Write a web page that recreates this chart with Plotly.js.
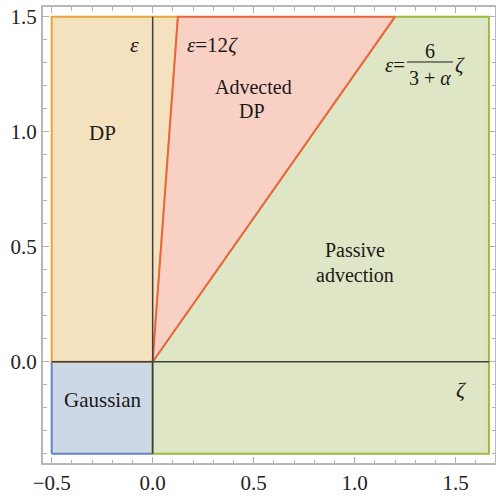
<!DOCTYPE html>
<html>
<head>
<meta charset="utf-8">
<script src="https://cdn.plot.ly/plotly-3.0.1.min.js"></script>
<style>html,body{margin:0;padding:0;background:#fff;}#chart{width:496px;height:496px;}</style>
</head>
<body>
<div id="chart"></div>
<script>
// Region boundaries
const zetaMin = -0.5, zetaMax = 1.665;
const epsMin = -0.4, epsMax = 1.5;
const slopeDP = 12;             // eps = 12 zeta
const alpha = 1.8;              // eps = 6/(3+alpha) zeta
const slopeAdv = 6 / (3 + alpha);

const xDP12 = epsMax / slopeDP;   // where eps=12 zeta meets top
const xAdv = epsMax / slopeAdv;   // where eps=6/(3+a) zeta meets top

const dpX = [zetaMin, zetaMin, xDP12, 0, zetaMin];
const dpY = [0, epsMax, epsMax, 0, 0];
const advX = [0, xDP12, xAdv, 0];
const advY = [0, epsMax, epsMax, 0];
const pasX = [0, xAdv, zetaMax, zetaMax, 0, 0];
const pasY = [0, epsMax, epsMax, epsMin, epsMin, 0];
const gauX = [zetaMin, 0, 0, zetaMin, zetaMin];
const gauY = [epsMin, epsMin, 0, 0, epsMin];

const xTicks = [-0.5, 0.0, 0.5, 1.0, 1.5];
const yTicks = [0.0, 0.5, 1.0, 1.5];

function region(x, y, fill, line) {
  return {x, y, type: 'scatter', mode: 'lines', fill: 'toself', fillcolor: fill,
          line: {color: line, width: 2}, hoverinfo: 'skip', showlegend: false};
}

const traces = [
  region(gauX, gauY, 'rgba(205,216,231,1)', '#5f86c4'),
  region(pasX, pasY, 'rgba(222,230,197,1)', '#9bbb3c'),
  region(dpX, dpY, 'rgba(244,225,190,1)', '#e8a53a'),
  region(advX, advY, 'rgba(249,208,196,1)', '#e8663a'),
  {x: [0, 0], y: [epsMin, epsMax], type: 'scatter', mode: 'lines', line: {color: '#3f3f3f', width: 1.5}, showlegend: false, hoverinfo: 'skip'},
  {x: [zetaMin, zetaMax], y: [0, 0], type: 'scatter', mode: 'lines', line: {color: '#3f3f3f', width: 1.5}, showlegend: false, hoverinfo: 'skip'}
];

const F = "'Liberation Serif', 'DejaVu Serif', serif";
function ann(x, y, text, size, xanchor) {
  return {x, y, text, showarrow: false, font: {family: F, size: size || 21, color: '#1a1a1a'}, xanchor: xanchor || 'center', yanchor: 'middle'};
}

const annotations = [
  ann(-0.25, 0.993, 'DP', 21),
  ann(-0.088, 1.377, '<i>ε</i>', 22),
  ann(0.296, 1.377, '<i>ε</i>=12<i>ζ</i>', 21),
  ann(0.50, 1.193, 'Advected', 20),
  ann(0.49, 1.088, 'DP', 20),
  ann(1.0, 0.484, 'Passive', 20),
  ann(1.0, 0.378, 'advection', 20),
  ann(-0.25, -0.167, 'Gaussian', 21),
  ann(1.53, -0.119, '<i>ζ</i>', 22),
  ann(1.257, 1.29, '<i>ε</i>=', 21, 'right'),
  ann(1.373, 1.352, '6', 20),
  ann(1.373, 1.235, '3 + <i>α</i>', 20),
  ann(1.488, 1.29, '<i>ζ</i>', 21, 'left')
];

const axisCommon = {
  showgrid: false, zeroline: false, showline: true, mirror: 'ticks', linecolor: '#b8b8b8', linewidth: 2,
  ticks: 'inside', ticklen: 6, tickcolor: '#b0b0b0', tickwidth: 1,
  minor: {dtick: 0.1, ticks: 'inside', ticklen: 3.5, tickcolor: '#b0b0b0', showgrid: false},
  tickfont: {family: F, size: 21, color: '#222'}
};

const layout = {
  width: 496, height: 496,
  margin: {l: 43, r: 1, t: 7, b: 33},
  paper_bgcolor: '#fff', plot_bgcolor: '#fff',
  showlegend: false,
  font: {family: F},
  xaxis: Object.assign({range: [-0.543, 1.695], tickvals: xTicks,
          ticktext: xTicks.map(v => v.toFixed(1).replace('-', '\u2212'))}, axisCommon),
  yaxis: Object.assign({range: [-0.44, 1.542], tickvals: yTicks,
          ticktext: yTicks.map(v => v.toFixed(1))}, axisCommon),
  shapes: [
    {type: 'line', xref: 'x', yref: 'y', x0: 1.259, x1: 1.487, y0: 1.303, y1: 1.303, line: {color: '#1a1a1a', width: 1}}
  ],
  annotations
};

Plotly.newPlot('chart', traces, layout, {staticPlot: true, displayModeBar: false});
</script>
</body>
</html>
